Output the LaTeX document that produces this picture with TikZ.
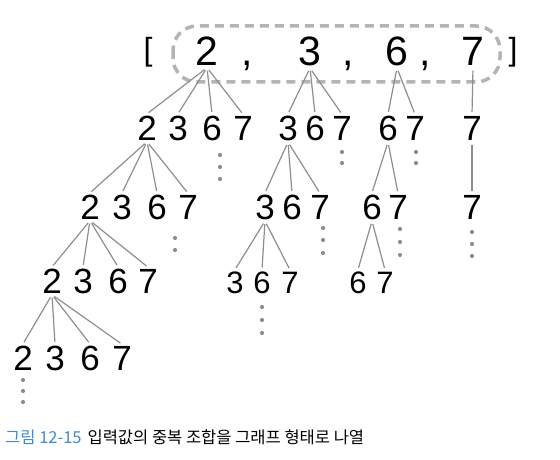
\documentclass[tikz,border=0pt]{standalone}
\usepackage{fontspec}
\setmainfont{Liberation Sans}
\newfontfamily\krfont{Noto Sans CJK KR}
\definecolor{edgegray}{HTML}{8E8E8E}
\definecolor{boxgray}{HTML}{B4B4B4}
\definecolor{capblue}{HTML}{3D8BD6}
\tikzset{
  dg/.style={anchor=base, inner sep=1.5pt, font=\fontsize{35}{35}\selectfont},
  sg/.style={dg, font=\fontsize{31}{31}\selectfont},
  tg/.style={dg, font=\fontsize{41}{41}\selectfont},
  edge/.style={draw=edgegray, line width=1.2pt, shorten >=2pt, shorten <=3pt},
  dotc/.style={circle, fill=edgegray, inner sep=0pt, minimum size=4.2pt},
  hilite/.style={draw=boxgray, line width=3.5pt, dash pattern=on 9pt off 6pt, rounded corners=24pt}
}
\begin{document}
\begin{tikzpicture}[x=1pt, y=-1pt]
\useasboundingbox (0,0) rectangle (560,460);
% highlight box
\draw[hilite] (173,26) rectangle (500,82);
% top row
\node[anchor=center, inner sep=0pt, font=\fontsize{32}{32}\selectfont] (lb) at (148,52) {[};
\node[anchor=center, inner sep=0pt, font=\fontsize{32}{32}\selectfont] (rb) at (513,52) {]};
\node[tg] (t2) at (207,66) {2};
\node[tg] (c1) at (247,66) {,};
\node[tg] (t3) at (310,66) {3};
\node[tg] (c2) at (348,66) {,};
\node[tg] (t6) at (397,66) {6};
\node[tg] (c3) at (425,66) {,};
\node[tg] (t7) at (473,66) {7};
% level 1
\node[dg] (A2) at (147,140) {2};
\node[dg] (A3) at (178,140) {3};
\node[dg] (A6) at (212,140) {6};
\node[dg] (A7) at (243,140) {7};
\node[dg] (B3) at (288,140) {3};
\node[dg] (B6) at (315,140) {6};
\node[dg] (B7) at (342,140) {7};
\node[dg] (C6) at (388,140) {6};
\node[dg] (C7) at (415,140) {7};
\node[dg] (D7) at (472,140) {7};
% level 2
\node[dg] (E2) at (90,219) {2};
\node[dg] (E3) at (122,219) {3};
\node[dg] (E6) at (157,219) {6};
\node[dg] (E7) at (188,219) {7};
\node[dg] (F3) at (265,219) {3};
\node[dg] (F6) at (292,219) {6};
\node[dg] (F7) at (320,219) {7};
\node[dg] (G6) at (372,219) {6};
\node[dg] (G7) at (398,219) {7};
\node[dg] (H7) at (472,219) {7};
% level 3
\node[dg] (I2) at (52,293) {2};
\node[dg] (I3) at (83,293) {3};
\node[dg] (I6) at (118,293) {6};
\node[dg] (I7) at (148,293) {7};
\node[sg] (J3) at (235,293) {3};
\node[sg] (J6) at (262,293) {6};
\node[sg] (J7) at (290,293) {7};
\node[sg] (K6) at (358,293) {6};
\node[sg] (K7) at (385,293) {7};
% level 4
\node[dg] (M2) at (23,370) {2};
\node[dg] (M3) at (55,370) {3};
\node[dg] (M6) at (90,370) {6};
\node[dg] (M7) at (122,370) {7};
% edges
\foreach \c in {A2,A3,A6,A7} \draw[edge] (t2.south) -- (\c.north);
\foreach \c in {B3,B6,B7} \draw[edge] (t3.south) -- (\c.north);
\foreach \c in {C6,C7} \draw[edge] (t6.south) -- (\c.north);
\draw[edge] (t7.south) -- (D7.north);
\foreach \c in {E2,E3,E6,E7} \draw[edge] (A2.south) -- (\c.north);
\foreach \c in {F3,F6,F7} \draw[edge] (B3.south) -- (\c.north);
\foreach \c in {G6,G7} \draw[edge] (C6.south) -- (\c.north);
\draw[edge] (D7.south) -- (H7.north);
\foreach \c in {I2,I3,I6,I7} \draw[edge] (E2.south) -- (\c.north);
\foreach \c in {J3,J6,J7} \draw[edge] (F3.south) -- (\c.north);
\foreach \c in {K6,K7} \draw[edge] (G6.south) -- (\c.north);
\foreach \c in {M2,M3,M6,M7} \draw[edge] (I2.south) -- (\c.north);
% continuation dots
\node[dotc] (dA1) at (220,155) {}; \node[dotc] (dA2) at (220,167) {}; \node[dotc] (dA3) at (220,179) {};
\node[dotc] (dB1) at (342,152) {}; \node[dotc] (dB2) at (342,163) {};
\node[dotc] (dC1) at (416,152) {}; \node[dotc] (dC2) at (416,163) {};
\node[dotc] (dE1) at (175,238) {}; \node[dotc] (dE2) at (175,250) {};
\node[dotc] (dF1) at (323,228) {}; \node[dotc] (dF2) at (323,240) {}; \node[dotc] (dF3) at (323,253) {};
\node[dotc] (dG1) at (400,229) {}; \node[dotc] (dG2) at (400,242) {}; \node[dotc] (dG3) at (400,255) {};
\node[dotc] (dH1) at (472,232) {}; \node[dotc] (dH2) at (472,244) {}; \node[dotc] (dH3) at (472,256) {};
\node[dotc] (dJ1) at (262,307) {}; \node[dotc] (dJ2) at (262,320) {}; \node[dotc] (dJ3) at (262,333) {};
\node[dotc] (dM1) at (23,380) {}; \node[dotc] (dM2) at (23,391) {}; \node[dotc] (dM3) at (23,402) {};
% caption
\node[anchor=west, inner sep=0pt, font=\krfont\fontsize{16.5}{18}\selectfont] (cap) at (5,437)
  {\textcolor{capblue}{그림 12-15}\hspace{6pt}입력값의 중복 조합을 그래프 형태로 나열};
\end{tikzpicture}
\end{document}
